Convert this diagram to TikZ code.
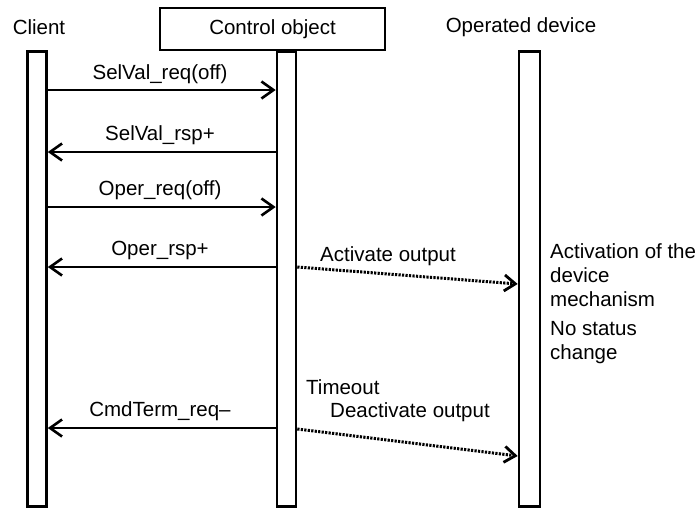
\documentclass[tikz,border=0pt]{standalone}
\usepackage{fontspec}
\setmainfont{Liberation Sans}
\usetikzlibrary{arrows.meta}
\begin{document}
\begin{tikzpicture}[x=1pt,y=-1pt,
  lbl/.style={font=\fontsize{20.5}{24}\selectfont, inner sep=0pt},
  bar/.style={draw, line width=2.6pt, minimum width=19pt, minimum height=455pt, anchor=north, inner sep=0pt},
  msg/.style={line width=2.6pt, -{Straight Barb[length=12pt,width=17pt,line width=2.6pt]}},
  act/.style={line width=3pt, dash pattern=on 2.2pt off 1.3pt, -{Straight Barb[length=11pt,width=16pt,line width=2.8pt,sep=0pt]}}]
\useasboundingbox (0,0) rectangle (699,507);
% header
\node[lbl] (hcl) at (39,27) {Client};
\node[draw, line width=2.6pt, minimum width=225pt, minimum height=42pt, inner sep=0pt, lbl] (hco) at (272.5,29) {Control object};
\node[lbl] (hod) at (521,27) {Operated device};
% lifelines
\node[bar] (cb) at (37,50) {};
\node[bar] (kb) at (286.5,50) {};
\node[bar, minimum width=21pt] (db) at (529.5,50) {};
% message points
\coordinate (c1) at (cb.east |- 0,90);   \coordinate (k1) at (kb.west |- 0,90);
\coordinate (c2) at (cb.east |- 0,152);  \coordinate (k2) at (kb.west |- 0,152);
\coordinate (c3) at (cb.east |- 0,207);  \coordinate (k3) at (kb.west |- 0,207);
\coordinate (c4) at (cb.east |- 0,267);  \coordinate (k4) at (kb.west |- 0,267);
\coordinate (c6) at (cb.east |- 0,428);  \coordinate (k6) at (kb.west |- 0,428);
\coordinate (k5) at (kb.east |- 0,267);  \coordinate (d5) at (db.west |- 0,284);
\coordinate (k7) at (kb.east |- 0,429);  \coordinate (d7) at (db.west |- 0,456);
% messages
\draw[msg] (c1) -- (k1);
\node[lbl] (m1) at (160,74) {SelVal\_req(off)};
\draw[msg] (k2) -- (c2);
\node[lbl] (m2) at (160,135) {SelVal\_rsp+};
\draw[msg] (c3) -- (k3);
\node[lbl] (m3) at (160,190) {Oper\_req(off)};
\draw[msg] (k4) -- (c4);
\node[lbl] (m4) at (160,250) {Oper\_rsp+};
\draw[act] (k5) -- (d5);
\node[lbl] (m5) at (388,256) {Activate output};
\draw[msg] (k6) -- (c6);
\node[lbl] (m6) at (160,411) {CmdTerm\_req\textendash};
\draw[act] (k7) -- (d7);
\node[lbl] (m7) at (410,412) {Deactivate output};
% notes
\node[lbl, anchor=west, align=left] (n1) at (550,275) {Activation of the\\device\\mechanism};
\node[lbl, anchor=west, align=left] (n2) at (550,343) {No status\\change};
\node[lbl, anchor=west] (n3) at (306,387) {Timeout};
\end{tikzpicture}
\end{document}
